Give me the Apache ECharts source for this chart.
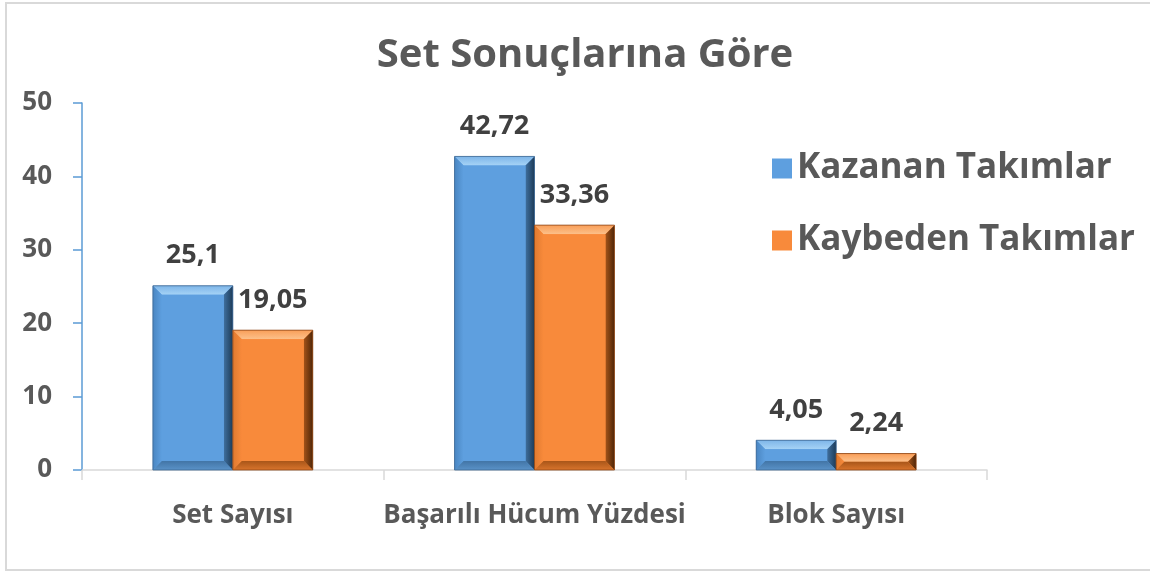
<!DOCTYPE html>
<html>
<head>
<meta charset="utf-8">
<script src="https://cdn.jsdelivr.net/npm/echarts@6/dist/echarts.min.js"></script>
<style>
  html, body { margin: 0; padding: 0; background: #ffffff; }
  #chart { width: 1150px; height: 571px; }
</style>
</head>
<body>
<div id="chart"></div>
<script>
// Chart data
const titleText = 'Set Sonuçlarına Göre';
const categories = ['Set Sayısı', 'Başarılı Hücum Yüzdesi', 'Blok Sayısı'];
const seriesNames = ['Kazanan Takımlar', 'Kaybeden Takımlar'];
const winnerValues = [25.1, 42.72, 4.05];
const loserValues = [19.05, 33.36, 2.24];
const yTicks = [0, 10, 20, 30, 40, 50];

const FONT = '"Open Sans", Lato, sans-serif';
const TEXT = '#595959';

// Bevelled bar palettes: face, top (outer->inner), left, right (inner->outer), bottom (inner->outer), outline
const palettes = [
  { face: '#5e9fdf', top: ['#7db5e8', '#a6d3f6'], left: ['#4a86c2', '#5e9fdf'], right: ['#3f6f9e', '#1d3b58'], bottom: ['#4275a6', '#5a92c8'], edge: '#3b6590' },
  { face: '#f88a3b', top: ['#f99e58', '#fcc08a'], left: ['#e07a30', '#f88a3b'], right: ['#a35319', '#4f2608'], bottom: ['#a85619', '#d9742c'], edge: '#8a4414' }
];

function fmt(v) { return String(v).replace('.', ','); }

function grad(x, y, x2, y2, c) {
  return new echarts.graphic.LinearGradient(x, y, x2, y2, [
    { offset: 0, color: c[0] }, { offset: 1, color: c[1] }
  ]);
}

function bevelRenderer(slot) {
  const pal = palettes[slot];
  return function (params, api) {
    const cat = api.value(0);
    const val = api.value(1);
    const base = api.coord([cat, 0]);
    const topPt = api.coord([cat, val]);
    const band = api.size([1, 0])[0];
    const w = band * 0.265;
    const x0 = base[0] + (slot === 0 ? -w : 0);
    const x1 = x0 + w;
    const y0 = topPt[1];
    const y1 = base[1];
    const h = y1 - y0;
    const b = Math.min(9, h / 2, w / 2);
    const poly = (pts, fill) => ({ type: 'polygon', shape: { points: pts }, style: { fill: fill } });
    return {
      type: 'group',
      children: [
        { type: 'rect', shape: { x: x0, y: y0, width: w, height: h }, style: { fill: pal.face } },
        poly([[x0, y0], [x1, y0], [x1 - b, y0 + b], [x0 + b, y0 + b]], grad(0, 0, 0, 1, pal.top)),
        poly([[x0, y0], [x0 + b, y0 + b], [x0 + b, y1 - b], [x0, y1]], grad(0, 0, 1, 0, pal.left)),
        poly([[x1, y0], [x1, y1], [x1 - b, y1 - b], [x1 - b, y0 + b]], grad(1, 0, 0, 0, [pal.right[1], pal.right[0]])),
        poly([[x0, y1], [x1, y1], [x1 - b, y1 - b], [x0 + b, y1 - b]], grad(0, 0, 0, 1, pal.bottom)),
        { type: 'rect', shape: { x: x0 + b, y: y0 + b, width: w - 2 * b, height: Math.max(0, h - 2 * b) }, style: { fill: pal.face } },
        { type: 'rect', shape: { x: x0, y: y0, width: w, height: h }, style: { fill: 'none', stroke: pal.edge, lineWidth: 0.8 } },
        {
          type: 'text',
          style: {
            text: fmt(val), x: x0 + w / 2, y: y0 - 30,
            align: 'center', verticalAlign: 'middle',
            font: 'bold 27px ' + FONT, fill: '#404040'
          }
        }
      ]
    };
  };
}

const chart = echarts.init(document.getElementById('chart'));
chart.setOption({
  backgroundColor: '#ffffff',
  animation: false,
  title: {
    text: titleText,
    left: 580,
    textAlign: 'center',
    top: 31,
    textStyle: { fontFamily: FONT, fontWeight: 'bold', fontSize: 40, color: TEXT }
  },
  legend: {
    orient: 'vertical',
    left: 767,
    top: 146,
    itemWidth: 20,
    itemHeight: 20,
    itemGap: 37,
    icon: 'rect',
    data: seriesNames,
    textStyle: { fontFamily: FONT, fontWeight: 'bold', fontSize: 35, color: TEXT }
  },
  graphic: [{
    type: 'rect',
    shape: { x: 6, y: 3, width: 1160, height: 567 },
    style: { fill: 'none', stroke: '#d9d9d9', lineWidth: 2 },
    silent: true
  }],
  grid: { left: 82, right: 163, top: 103, bottom: 101 },
  xAxis: {
    type: 'category',
    data: categories,
    axisLine: { lineStyle: { color: '#d9d9d9', width: 1.5 } },
    axisTick: { show: true, length: 10, lineStyle: { color: '#d9d9d9', width: 1.5 } },
    axisLabel: { interval: 0, margin: 33, fontFamily: FONT, fontWeight: 'bold', fontSize: 26, color: TEXT }
  },
  yAxis: {
    type: 'value',
    min: yTicks[0],
    max: yTicks[yTicks.length - 1],
    interval: yTicks[1] - yTicks[0],
    splitLine: { show: false },
    axisLine: { show: true, lineStyle: { color: '#5b9bd5', width: 1.5 } },
    axisTick: { show: true, length: 9, lineStyle: { color: '#5b9bd5', width: 1.5 } },
    axisLabel: { margin: 30, fontFamily: FONT, fontWeight: 'bold', fontSize: 26, color: TEXT }
  },
  series: [
    {
      name: seriesNames[0],
      type: 'custom',
      renderItem: bevelRenderer(0),
      itemStyle: { color: palettes[0].face },
      encode: { x: 0, y: 1 },
      data: winnerValues.map((v, i) => [i, v])
    },
    {
      name: seriesNames[1],
      type: 'custom',
      renderItem: bevelRenderer(1),
      itemStyle: { color: palettes[1].face },
      encode: { x: 0, y: 1 },
      data: loserValues.map((v, i) => [i, v])
    }
  ]
});
</script>
</body>
</html>
